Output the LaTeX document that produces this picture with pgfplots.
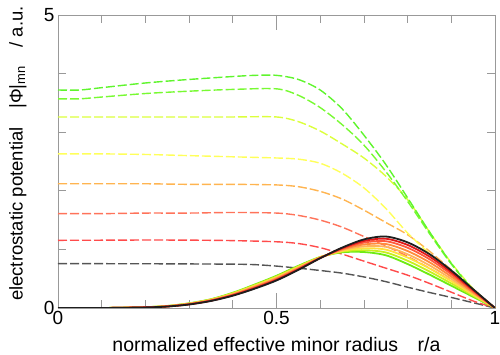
\documentclass[border=0pt]{standalone}
\usepackage{fontspec}
\setmainfont{Liberation Sans}
\usepackage{pgfplots}
\pgfplotsset{compat=1.18}
\definecolor{dgrey}{RGB}{85,85,85}
\definecolor{dred}{RGB}{255,75,75}
\definecolor{dsalmon}{RGB}{255,115,90}
\definecolor{dorange}{RGB}{255,180,80}
\definecolor{dyellow}{RGB}{255,255,90}
\definecolor{dyg}{RGB}{220,255,60}
\definecolor{dgreen2}{RGB}{120,250,50}
\definecolor{dgreen1}{RGB}{95,245,45}
\definecolor{sgreen}{RGB}{110,235,20}
\definecolor{syg}{RGB}{200,240,30}
\definecolor{syellow}{RGB}{255,225,60}
\definecolor{slorange}{RGB}{255,180,90}
\definecolor{sorange}{RGB}{255,140,60}
\definecolor{ssalmon}{RGB}{255,90,60}
\definecolor{sred}{RGB}{225,25,25}
\definecolor{sblack}{RGB}{30,30,30}
\begin{document}
\begin{tikzpicture}
\begin{axis}[
  scale only axis, width=437pt, height=293pt,
  xmin=0, xmax=1, ymin=0, ymax=5,
  xtick={0,0.5,1}, xticklabels={0,0.5,1},
  minor xtick={0.1,0.2,0.3,0.4,0.6,0.7,0.8,0.9},
  ytick={0,5}, yticklabels={0,5},
  minor ytick={1,2,3,4},
  tick align=inside,
  major tick length=15pt, minor tick length=8pt,
  axis line style={draw=gray!80, line width=0.8pt},
  every tick/.style={draw=gray!80, line width=0.8pt},
  tick label style={font=\fontsize{19}{22}\selectfont},
  xlabel style={font=\fontsize{19.5}{22}\selectfont},
  ylabel style={font=\fontsize{18.5}{22}\selectfont},
  xlabel={normalized effective minor radius\quad r/a},
  ylabel={electrostatic potential\quad |Φ|\textsubscript{mn}\quad / a.u.},
  xlabel style={at={(axis description cs:0.5,-0.125)}, anchor=center},
  ylabel style={at={(axis description cs:-0.092,0.527)}, anchor=center},
  every axis plot/.append style={smooth, no marks},
]
% dashed curves
\addplot[dgrey, dash pattern=on 9pt off 3pt, line width=1.4pt] coordinates {
(0,0.756)(0.1,0.756)(0.2,0.755)(0.3,0.752)(0.4,0.748)(0.45,0.74)(0.5,0.715)(0.55,0.68)(0.6,0.64)(0.65,0.595)(0.7,0.53)(0.75,0.45)(0.8,0.355)(0.85,0.265)(0.9,0.18)(0.95,0.09)(1,0)};
\addplot[dred, dash pattern=on 9pt off 3pt, line width=1.4pt] coordinates {
(0,1.155)(0.1,1.157)(0.2,1.16)(0.3,1.158)(0.4,1.15)(0.5,1.13)(0.55,1.1)(0.6,1.03)(0.65,0.92)(0.7,0.8)(0.75,0.68)(0.8,0.56)(0.85,0.42)(0.9,0.27)(0.95,0.12)(1,0)};
\addplot[dsalmon, dash pattern=on 9pt off 3pt, line width=1.4pt] coordinates {
(0,1.61)(0.1,1.61)(0.2,1.62)(0.3,1.62)(0.4,1.63)(0.5,1.62)(0.55,1.58)(0.6,1.5)(0.65,1.38)(0.7,1.22)(0.75,1.06)(0.8,0.88)(0.85,0.68)(0.9,0.46)(0.95,0.22)(1,0)};
\addplot[dorange, dash pattern=on 9pt off 3pt, line width=1.4pt] coordinates {
(0,2.12)(0.1,2.12)(0.2,2.12)(0.3,2.11)(0.4,2.11)(0.5,2.1)(0.55,2.07)(0.6,1.99)(0.65,1.86)(0.7,1.67)(0.75,1.46)(0.8,1.25)(0.85,0.97)(0.9,0.65)(0.95,0.32)(1,0)};
\addplot[dyellow, dash pattern=on 9pt off 3pt, line width=1.4pt] coordinates {
(0,2.63)(0.1,2.63)(0.2,2.62)(0.3,2.6)(0.4,2.58)(0.5,2.56)(0.55,2.54)(0.6,2.47)(0.65,2.3)(0.7,2.05)(0.75,1.7)(0.8,1.28)(0.85,0.93)(0.9,0.6)(0.95,0.28)(1,0)};
\addplot[dyg, dash pattern=on 9pt off 3pt, line width=1.4pt] coordinates {
(0,3.26)(0.1,3.26)(0.2,3.26)(0.3,3.26)(0.4,3.26)(0.5,3.26)(0.55,3.18)(0.6,3.02)(0.65,2.8)(0.7,2.56)(0.75,2.25)(0.8,1.85)(0.85,1.3)(0.9,0.77)(0.95,0.33)(1,0)};
\addplot[dgreen2, dash pattern=on 9pt off 3pt, line width=1.4pt] coordinates {
(0,3.57)(0.05,3.57)(0.1,3.6)(0.2,3.66)(0.3,3.7)(0.4,3.73)(0.5,3.74)(0.55,3.63)(0.6,3.42)(0.65,3.13)(0.7,2.78)(0.75,2.33)(0.8,1.82)(0.85,1.27)(0.9,0.75)(0.95,0.31)(1,0)};
\addplot[dgreen1, dash pattern=on 9pt off 3pt, line width=1.4pt] coordinates {
(0,3.72)(0.05,3.72)(0.1,3.76)(0.2,3.84)(0.3,3.9)(0.4,3.95)(0.45,3.97)(0.5,3.97)(0.55,3.9)(0.6,3.72)(0.65,3.4)(0.7,2.95)(0.75,2.45)(0.8,1.88)(0.85,1.3)(0.9,0.76)(0.95,0.31)(1,0)};
% solid curves
\addplot[sgreen, line width=1.8pt] coordinates {
(0,0)(0.1,0)(0.2,0.015)(0.25,0.035)(0.3,0.08)(0.35,0.15)(0.4,0.26)(0.45,0.4)(0.5,0.55)(0.55,0.72)(0.6,0.87)(0.65,0.95)(0.7,0.955)(0.75,0.9)(0.8,0.75)(0.85,0.57)(0.9,0.38)(0.95,0.19)(1,0)};
\addplot[syg, line width=1.8pt] coordinates {
(0,0)(0.1,0)(0.2,0.014)(0.25,0.034)(0.3,0.077)(0.35,0.146)(0.4,0.253)(0.45,0.39)(0.5,0.538)(0.55,0.71)(0.6,0.867)(0.65,0.962)(0.7,0.987)(0.75,0.948)(0.8,0.806)(0.85,0.623)(0.9,0.419)(0.95,0.21)(1,0)};
\addplot[syellow, line width=1.8pt] coordinates {
(0,0)(0.1,0)(0.2,0.014)(0.25,0.032)(0.3,0.074)(0.35,0.141)(0.4,0.245)(0.45,0.379)(0.5,0.526)(0.55,0.699)(0.6,0.864)(0.65,0.974)(0.7,1.02)(0.75,0.996)(0.8,0.861)(0.85,0.675)(0.9,0.458)(0.95,0.229)(1,0)};
\addplot[slorange, line width=1.8pt] coordinates {
(0,0)(0.1,0)(0.2,0.013)(0.25,0.031)(0.3,0.071)(0.35,0.137)(0.4,0.238)(0.45,0.369)(0.5,0.514)(0.55,0.689)(0.6,0.861)(0.65,0.986)(0.7,1.052)(0.75,1.044)(0.8,0.917)(0.85,0.728)(0.9,0.497)(0.95,0.249)(1,0)};
\addplot[sorange, line width=1.8pt] coordinates {
(0,0)(0.1,0)(0.2,0.012)(0.25,0.029)(0.3,0.068)(0.35,0.132)(0.4,0.23)(0.45,0.358)(0.5,0.502)(0.55,0.678)(0.6,0.858)(0.65,0.998)(0.7,1.084)(0.75,1.092)(0.8,0.972)(0.85,0.78)(0.9,0.536)(0.95,0.268)(1,0)};
\addplot[ssalmon, line width=1.8pt] coordinates {
(0,0)(0.1,0)(0.2,0.011)(0.25,0.028)(0.3,0.065)(0.35,0.128)(0.4,0.223)(0.45,0.348)(0.5,0.49)(0.55,0.668)(0.6,0.855)(0.65,1.01)(0.7,1.116)(0.75,1.14)(0.8,1.028)(0.85,0.833)(0.9,0.575)(0.95,0.288)(1,0)};
\addplot[sred, line width=1.8pt] coordinates {
(0,0)(0.1,0)(0.2,0.011)(0.25,0.026)(0.3,0.062)(0.35,0.124)(0.4,0.216)(0.45,0.338)(0.5,0.48)(0.55,0.658)(0.6,0.852)(0.65,1.02)(0.7,1.144)(0.75,1.182)(0.8,1.076)(0.85,0.878)(0.9,0.609)(0.95,0.304)(1,0)};
\addplot[sblack, line width=1.8pt] coordinates {
(0,0)(0.1,0)(0.2,0.01)(0.25,0.025)(0.3,0.06)(0.35,0.12)(0.4,0.21)(0.45,0.33)(0.5,0.47)(0.55,0.65)(0.6,0.85)(0.65,1.03)(0.7,1.17)(0.75,1.22)(0.8,1.12)(0.85,0.92)(0.9,0.64)(0.95,0.32)(1,0)};
\end{axis}
\pgfresetboundingbox
\path (current axis.south west) ++(-58pt,-47pt) rectangle ++(500pt,355pt);
\end{tikzpicture}
\end{document}
